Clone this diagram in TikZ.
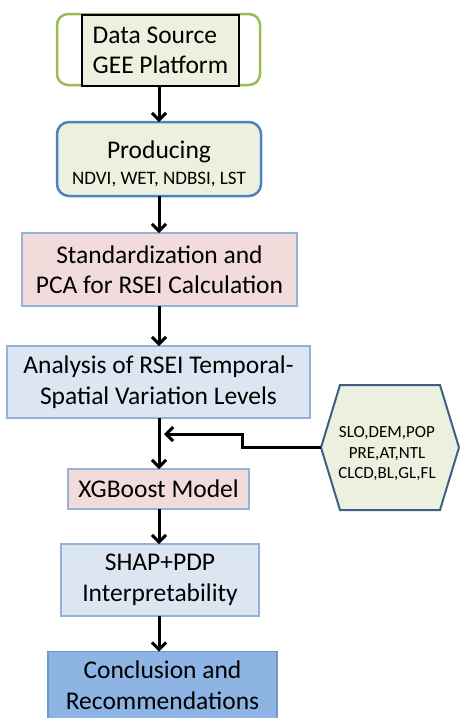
\documentclass[tikz,border=0pt]{standalone}
\usepackage{fontspec}
\setmainfont{Carlito}
\usetikzlibrary{arrows.meta}
\definecolor{lgreen}{HTML}{EBF1DE}
\definecolor{ggreen}{HTML}{9BBB59}
\definecolor{bblue}{HTML}{4F81BD}
\definecolor{lpink}{HTML}{F2DCDB}
\definecolor{lblue}{HTML}{DCE6F2}
\definecolor{eblue}{HTML}{95B3D7}
\definecolor{hexborder}{HTML}{3F5F85}
\definecolor{dblue}{HTML}{8DB4E2}
\definecolor{dborder}{HTML}{6F98CC}
\tikzset{
  box/.style={rectangle, inner sep=0pt, outer sep=0pt, align=center, font=\fontsize{25.5}{30.5}\selectfont},
  lightbox/.style={box, draw=eblue, line width=1.3pt},
  arr/.style={draw=black, line width=3pt, -{Straight Barb[length=7pt,width=14pt]}},
}
\begin{document}
\begin{tikzpicture}[x=1pt,y=-1pt]
\useasboundingbox (0,0) rectangle (459,718);
% box 1
\node[box, draw=ggreen, line width=2.5pt, rounded corners=11pt, fill=white, minimum width=203pt, minimum height=71pt] (b1o) at (158.5,49.5) {};
\node[box, draw=black, line width=2.5pt, fill=lgreen, minimum width=157pt, minimum height=71pt, align=left] (b1) at (160.5,50.5) {Data Source\\GEE Platform};
% box 2
\node[box, draw=bblue, line width=2.5pt, rounded corners=12pt, fill=lgreen, minimum width=204pt, minimum height=74pt] (b2) at (159,159) {};
\node[box, align=center] (b2t) at (159,164) {Producing\\[-4pt]{\fontsize{19}{23}\selectfont NDVI, WET, NDBSI, LST}};
% box 3
\node[lightbox, fill=lpink, minimum width=275pt, minimum height=73pt] (b3) at (159.5,269.5) {Standardization and\\PCA for RSEI Calculation};
% box 4
\node[lightbox, fill=lblue, minimum width=303pt, minimum height=72pt] (b4) at (158.5,382) {Analysis of RSEI Temporal-\\Spatial Variation Levels};
% hexagon
\coordinate (hexL) at (321,447.5);
\coordinate (hexTL) at (340,385);
\coordinate (hexTR) at (440,385);
\coordinate (hexR) at (459,447.5);
\coordinate (hexBR) at (440,510);
\coordinate (hexBL) at (340,510);
\draw[draw=hexborder, line width=2pt, fill=lgreen, line join=miter] (hexL) -- (hexTL) -- (hexTR) -- (hexR) -- (hexBR) -- (hexBL) -- cycle;
\node[align=center, inner sep=0pt, font=\fontsize{17}{20.5}\selectfont] (hext) at (387,454) {SLO,DEM,POP\\PRE,AT,NTL\\CLCD,BL,GL,FL};
% box 5
\node[lightbox, fill=lpink, minimum width=181pt, minimum height=40pt] (b5) at (158.5,489) {XGBoost Model};
% box 6
\node[lightbox, fill=lblue, minimum width=198pt, minimum height=72pt] (b6) at (160,580) {SHAP+PDP\\Interpretability};
% box 7
\node[box, draw=dborder, line width=1.3pt, fill=dblue, minimum width=229pt, minimum height=67pt] (b7) at (162.5,685) {Conclusion and\\Recommendations};
% connectors
\coordinate (bend) at (242,434);
\coordinate (tip) at (164,434);
\draw[arr] (b1o.south -| 159,0) -- (159,0 |- b2.north);
\draw[arr] (b2.south -| 159,0) -- (159,0 |- b3.north);
\draw[arr] (b3.south -| 159,0) -- (159,0 |- b4.north);
\draw[arr] (b4.south -| 159,0) -- (159,0 |- b5.north);
\draw[arr] (b5.south -| 159,0) -- (159,0 |- b6.north);
\draw[arr] (b6.south -| 159,0) -- (159,0 |- b7.north);
\draw[arr, line join=miter] (hexL) -| (bend) -- (tip);
\end{tikzpicture}
\end{document}
